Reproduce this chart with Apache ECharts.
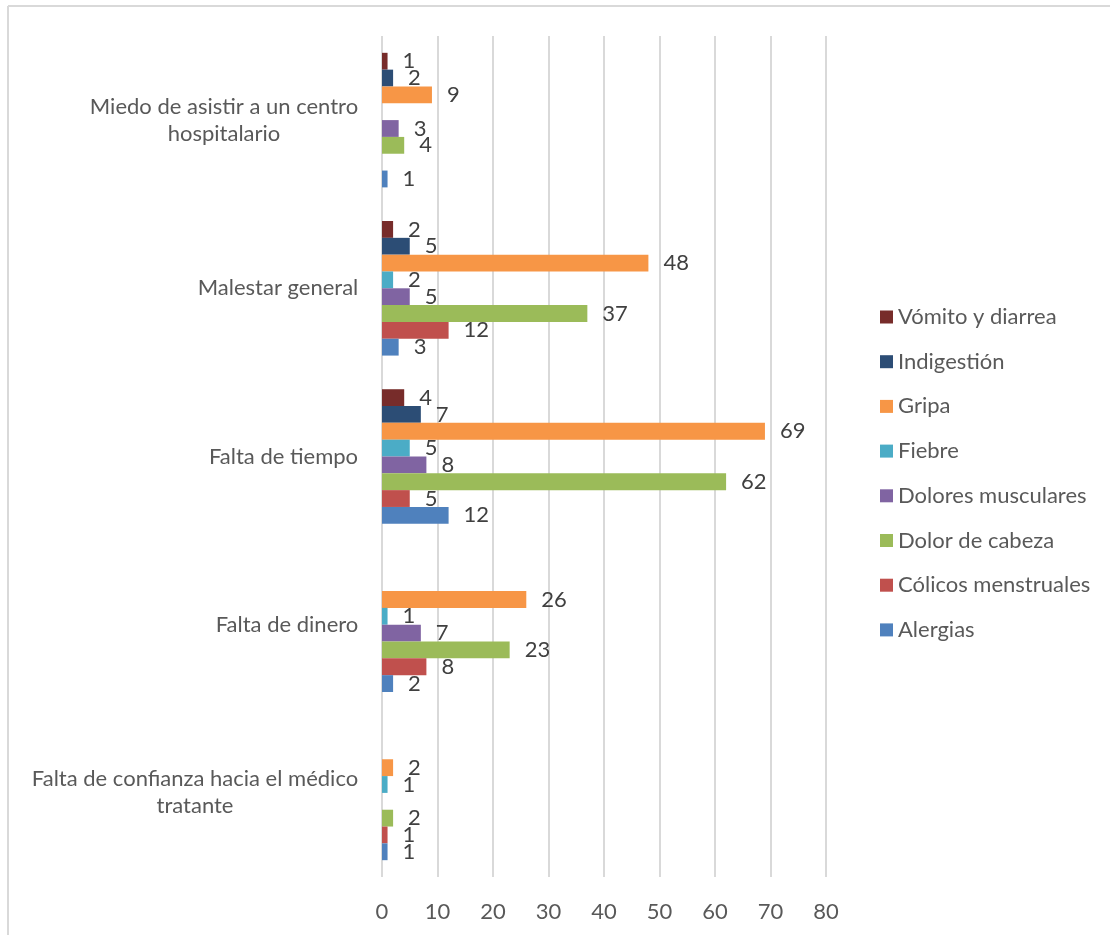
<!DOCTYPE html>
<html>
<head>
<meta charset="utf-8">
<script src="https://cdn.jsdelivr.net/npm/echarts@6/dist/echarts.min.js"></script>
<style>
html,body{margin:0;padding:0;background:#fff;}
#chart{width:1110px;height:935px;}
</style>
</head>
<body>
<div id="chart"></div>
<script>
// Categories, bottom to top
const categories = [
  'Falta de confianza hacia el médico\ntratante',
  'Falta de dinero',
  'Falta de tiempo',
  'Malestar general',
  'Miedo de asistir a un centro\nhospitalario'
];
const seriesNames = ['Vómito y diarrea','Indigestión','Gripa','Fiebre','Dolores musculares','Dolor de cabeza','Cólicos menstruales','Alergias'];
const colors = ['#772C2A','#2C4D75','#F79646','#4BACC6','#8064A2','#9BBB59','#C0504D','#4F81BD'];
// Values per series, following the category order above (null = no bar)
const vomito     = [null, null, 4, 2, 1];
const indigestion= [null, null, 7, 5, 2];
const gripa      = [2, 26, 69, 48, 9];
const fiebre     = [1, 1, 5, 2, null];
const dolores    = [null, 7, 8, 5, 3];
const cabeza     = [2, 23, 62, 37, 4];
const colicos    = [1, 8, 5, 12, null];
const alergias   = [1, 2, 12, 3, 1];
const xTicks = [0,10,20,30,40,50,60,70,80];

const seriesData = [vomito, indigestion, gripa, fiebre, dolores, cabeza, colicos, alergias];

const FONT = 'Lato, "Open Sans", sans-serif';
const catFontSize = 22;
const ctx = document.createElement('canvas').getContext('2d');
ctx.font = catFontSize + 'px ' + FONT;
const rich = {};
categories.forEach((c, i) => {
  const w = Math.max(...c.split('\n').map(l => ctx.measureText(l).width));
  rich['r' + i] = {width: Math.ceil(w) + 1, align: 'center', fontSize: catFontSize, lineHeight: 27, color: '#595959', fontFamily: FONT};
});

const chart = echarts.init(document.getElementById('chart'));
chart.setOption({
  animation: false,
  backgroundColor: '#fff',
  textStyle: {fontFamily: FONT},
  graphic: [
    {type: 'line', shape: {x1: 8, y1: 6, x2: 1110, y2: 6}, style: {stroke: '#d9d9d9', lineWidth: 2}, silent: true},
    {type: 'line', shape: {x1: 8, y1: 6, x2: 8, y2: 935}, style: {stroke: '#d9d9d9', lineWidth: 2}, silent: true}
  ],
  grid: {left: 382, right: 284, top: 36, bottom: 58, containLabel: false},
  legend: {
    orient: 'vertical',
    left: 880,
    top: 306,
    padding: 0,
    icon: 'rect',
    itemWidth: 13,
    itemHeight: 13,
    itemGap: 22.7,
    data: seriesNames,
    textStyle: {fontSize: 22, color: '#595959', fontFamily: FONT, lineHeight: 22}
  },
  xAxis: {
    type: 'value',
    min: 0, max: 80, interval: 10,
    axisLine: {show: false},
    axisTick: {show: false},
    axisLabel: {fontSize: 22, color: '#595959', margin: 24, fontFamily: FONT,
      formatter: v => xTicks.includes(v) ? String(v) : ''},
    splitLine: {show: true, lineStyle: {color: '#d9d9d9', width: 2}}
  },
  yAxis: {
    type: 'category',
    data: categories,
    axisLine: {show: false},
    axisTick: {show: false},
    axisLabel: {
      margin: 23,
      formatter: (v, i) => v.split('\n').map(l => '{r' + i + '|' + l + '}').join('\n'),
      rich: rich
    }
  },
  series: seriesNames.map((name, k) => ({
    name: name,
    type: 'bar',
    data: seriesData[k],
    barGap: '0%',
    barCategoryGap: '20%',
    itemStyle: {color: colors[k]},
    label: {show: true, position: 'right', distance: 15, fontSize: 22, color: '#404040', fontFamily: FONT}
  }))
});
</script>
</body>
</html>
